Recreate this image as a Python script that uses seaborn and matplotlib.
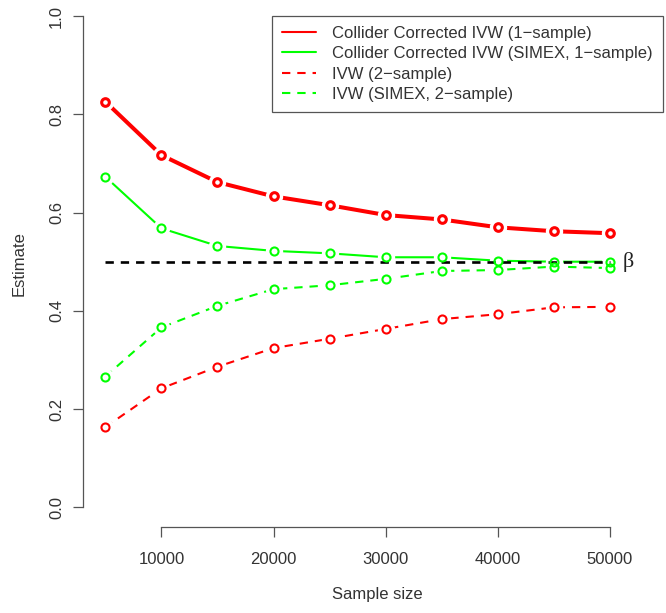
import matplotlib
matplotlib.use("Agg")
import matplotlib.pyplot as plt
from matplotlib.lines import Line2D
import seaborn as sns

# ---- data ----
sample_size = [5000, 10000, 15000, 20000, 25000, 30000, 35000, 40000, 45000, 50000]
cc_ivw_1s = [0.826, 0.717, 0.662, 0.633, 0.615, 0.595, 0.586, 0.570, 0.562, 0.558]
cc_ivw_simex_1s = [0.673, 0.568, 0.532, 0.522, 0.517, 0.509, 0.509, 0.502, 0.500, 0.500]
ivw_2s = [0.163, 0.242, 0.286, 0.324, 0.343, 0.363, 0.383, 0.393, 0.407, 0.408]
ivw_simex_2s = [0.266, 0.366, 0.410, 0.444, 0.452, 0.465, 0.481, 0.483, 0.490, 0.487]
beta = 0.5
labels = ["Collider Corrected IVW (1\u2212sample)",
          "Collider Corrected IVW (SIMEX, 1\u2212sample)",
          "IVW (2\u2212sample)",
          "IVW (SIMEX, 2\u2212sample)"]
x_ticks = [10000, 20000, 30000, 40000, 50000]
y_ticks = [0.0, 0.2, 0.4, 0.6, 0.8, 1.0]
y_tick_labels = ["0.0", "0.2", "0.4", "0.6", "0.8", "1.0"]

sns.set_theme(style="white")
plt.rcParams["font.family"] = ["Liberation Sans", "DejaVu Sans"]
plt.rcParams["lines.scale_dashes"] = False

W, H = 666, 613
fig = plt.figure(figsize=(W / 100, H / 100), dpi=100)
ax = fig.add_axes([83 / W, 1 - 526.8 / H, 580 / W, 526.8 / H])

RED = "#FF0000"
GREEN = "#00FF00"
DASH = (0, (6.0, 5.0))

series = [
    (cc_ivw_1s, RED, 2.9, "-", 2.2, 5.5),
    (cc_ivw_simex_1s, GREEN, 1.5, "-", 1.5, 5.8),
    (ivw_2s, RED, 1.5, DASH, 1.5, 5.8),
    (ivw_simex_2s, GREEN, 1.5, DASH, 1.5, 5.8),
]

for vals, col, lw, ls, mew, ms in series:
    sns.lineplot(x=sample_size, y=vals, ax=ax, color=col, linewidth=lw,
                 linestyle=ls, zorder=2, legend=False)

# white halos around points (type="b" style gaps)
for vals, col, lw, ls, mew, ms in series:
    ax.plot(sample_size, vals, linestyle="none", marker="o", markersize=11.5,
            markerfacecolor="white", markeredgecolor="white", zorder=3)

# true beta reference line
sns.lineplot(x=[sample_size[0], sample_size[-1]], y=[beta, beta], ax=ax,
             color="black", linewidth=1.9, linestyle=DASH, zorder=3.5, legend=False)
ax.text(51150, beta, "\u03b2", ha="left", va="center", fontsize=16,
        family=["Liberation Serif", "DejaVu Serif"], color="#222222")

# open circle markers
for vals, col, lw, ls, mew, ms in series:
    ax.plot(sample_size, vals, linestyle="none", marker="o", markersize=ms,
            markerfacecolor="none", markeredgecolor=col, markeredgewidth=mew, zorder=4)

# axes
x_per_px = 10000 / 112.15
ax.set_xlim(10000 - (161.4 - 83) * x_per_px, 50000 + (663 - 610) * x_per_px)
ax.set_ylim(-0.04, 1.0 + 16.2 / 491.0)
ax.set_xticks(x_ticks)
ax.set_xticklabels([str(v) for v in x_ticks])
ax.set_yticks(y_ticks)
ax.set_yticklabels(y_tick_labels, rotation=90, va="center")
for s in ["top", "right"]:
    ax.spines[s].set_visible(False)
for s in ["left", "bottom"]:
    ax.spines[s].set_color("#555555")
    ax.spines[s].set_linewidth(0.9)
ax.spines["left"].set_bounds(0, 1)
ax.spines["bottom"].set_bounds(10000, 50000)
ax.grid(False)
ax.set_facecolor("white")
ax.tick_params(axis="both", direction="out", length=7.2, width=0.9,
               color="#555555", labelsize=12, labelcolor="#333333",
               left=True, bottom=True)
ax.tick_params(axis="x", pad=11.0)
ax.tick_params(axis="y", pad=6.5)

ax.set_xlabel("Sample size", fontsize=12, color="#333333")
ax.set_ylabel("Estimate", fontsize=12, color="#333333")
ax.xaxis.set_label_coords((377 - 83) / 580, (526.8 - 587) / 526.8)
ax.yaxis.set_label_coords((26.5 - 83) / 580, 0.5)

# legend (R-style: thin sample lines, no markers)
handles = [Line2D([], [], color=col, linewidth=1.5, linestyle=ls)
           for vals, col, lw, ls, mew, ms in series]
leg = ax.legend(handles, labels, loc="upper right",
                bbox_to_anchor=(663 / W, 1 - 15.7 / H), bbox_transform=fig.transFigure,
                borderaxespad=0, fancybox=False, frameon=True, framealpha=1,
                edgecolor="#555555", handlelength=2.0, handletextpad=1.0,
                borderpad=0.6, labelspacing=0.33, fontsize=12)
leg.get_frame().set_linewidth(0.9)
for t in leg.get_texts():
    t.set_color("#333333")

fig.savefig("out.png", dpi=100, facecolor="white")
